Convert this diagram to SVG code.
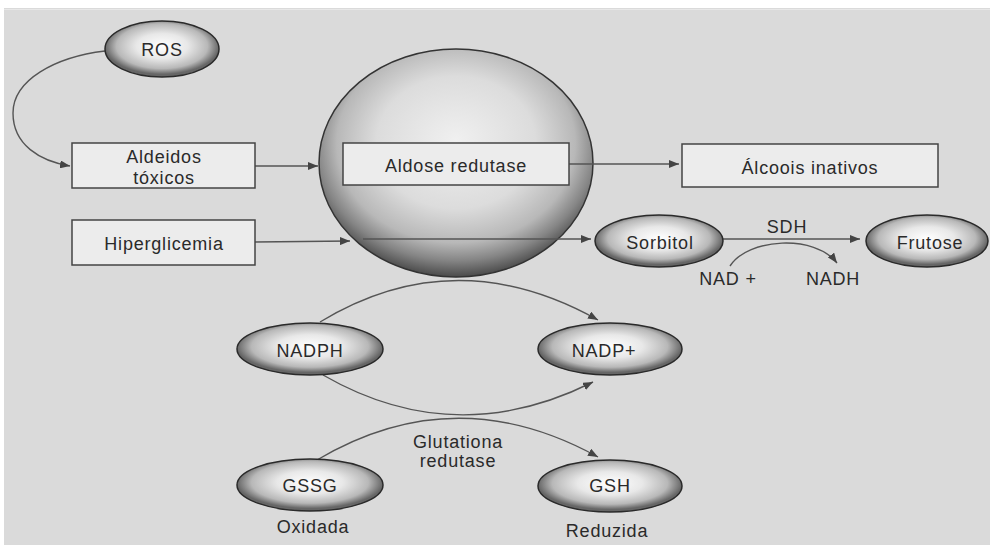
<svg xmlns="http://www.w3.org/2000/svg" width="990" height="545" viewBox="0 0 990 545">
<defs>
<radialGradient id="gOval" cx="0.5" cy="0.45" r="0.5">
<stop offset="0" stop-color="#ffffff"/>
<stop offset="0.45" stop-color="#e8e8e8"/>
<stop offset="0.8" stop-color="#b8b8b8"/>
<stop offset="1" stop-color="#666666"/>
</radialGradient>
<radialGradient id="gSphere" cx="0.5" cy="0.42" r="0.58" fx="0.5" fy="0.4">
<stop offset="0" stop-color="#f0f0f0"/>
<stop offset="0.5" stop-color="#dcdcdc"/>
<stop offset="0.75" stop-color="#b8b8b8"/>
<stop offset="0.88" stop-color="#858585"/>
<stop offset="1" stop-color="#4a4a4a"/>
</radialGradient>
<marker id="arr" viewBox="0 0 10 8" refX="10" refY="4" markerWidth="10" markerHeight="8" markerUnits="userSpaceOnUse" orient="auto">
<path d="M0,0 L10,4 L0,8 z" fill="#444"/>
</marker>
<style>
.box{fill:#ececec;stroke:#444;stroke-width:1.5}
.oval{fill:url(#gOval);stroke:#2a2a2a;stroke-width:1.5}
.t{font-family:"Liberation Sans",Arial,sans-serif;font-size:18px;fill:#2a2a2a;text-anchor:middle;letter-spacing:0.8px}
.c{fill:none;stroke:#555;stroke-width:1.4}
</style>
</defs>
<rect x="0" y="0" width="990" height="545" fill="#ffffff"/>
<rect x="4" y="8" width="986" height="537" fill="#dadada"/>
<line x1="4" y1="9.5" x2="990" y2="9.5" stroke="#e8e8e8" stroke-width="1"/>

<g id="sphere">
<ellipse cx="456" cy="163" rx="137" ry="114" fill="url(#gSphere)" stroke="#333" stroke-width="1.5"/>
</g>

<g id="connectors">
<path class="c" d="M105,51 C55,57 13,80 13,113 C13,145 40,161 70,166" marker-end="url(#arr)"/>
<line class="c" x1="255" y1="166" x2="318" y2="166" marker-end="url(#arr)"/>
<line class="c" x1="255" y1="242" x2="350" y2="241" marker-end="url(#arr)"/>
<line class="c" x1="363" y1="239" x2="591" y2="239" marker-end="url(#arr)"/>
<line class="c" x1="569" y1="164" x2="679" y2="164" marker-end="url(#arr)"/>
<line class="c" x1="723" y1="239" x2="860" y2="239" marker-end="url(#arr)"/>
<path class="c" d="M730,266 C748,238 815,234 837,263" marker-end="url(#arr)"/>
<path class="c" d="M320,322 Q455,240 598,320" marker-end="url(#arr)"/>
<path class="c" d="M323,375 Q455,451 593,382" marker-end="url(#arr)"/>
<path class="c" d="M317,460 Q455,378 598,457" marker-end="url(#arr)"/>
</g>

<g id="ros">
<ellipse class="oval" cx="162" cy="49" rx="57" ry="28"/>
<text class="t" x="162" y="56">ROS</text>
</g>
<g id="aldeidos">
<rect class="box" x="72" y="143" width="183" height="45"/>
<text class="t" x="164" y="163">Aldeidos</text>
<text class="t" x="164" y="184">tóxicos</text>
</g>
<g id="hiperglicemia">
<rect class="box" x="72" y="220" width="183" height="45"/>
<text class="t" x="164" y="250">Hiperglicemia</text>
</g>
<g id="aldose">
<rect class="box" x="343" y="143" width="226" height="42"/>
<text class="t" x="456" y="172">Aldose redutase</text>
</g>
<g id="alcoois">
<rect class="box" x="682" y="144" width="256" height="43"/>
<text class="t" x="810" y="174">Álcoois inativos</text>
</g>
<g id="sorbitol">
<ellipse class="oval" cx="659" cy="241" rx="64" ry="26"/>
<text class="t" x="660" y="249">Sorbitol</text>
</g>
<g id="frutose">
<ellipse class="oval" cx="927" cy="241" rx="61" ry="26"/>
<text class="t" x="930" y="249">Frutose</text>
</g>
<g id="labels-sdh">
<text class="t" x="787" y="233">SDH</text>
<text class="t" x="728" y="285">NAD +</text>
<text class="t" x="833" y="285">NADH</text>
</g>
<g id="nadph">
<ellipse class="oval" cx="310" cy="349" rx="73" ry="26"/>
<text class="t" x="310" y="357">NADPH</text>
</g>
<g id="nadp">
<ellipse class="oval" cx="610" cy="349" rx="72" ry="26"/>
<text class="t" x="604" y="357">NADP+</text>
</g>
<g id="glutationa">
<text class="t" x="458" y="448">Glutationa</text>
<text class="t" x="458" y="467">redutase</text>
</g>
<g id="gssg">
<ellipse class="oval" cx="310" cy="485" rx="73" ry="26"/>
<text class="t" x="310" y="492">GSSG</text>
<text class="t" x="313" y="533">Oxidada</text>
</g>
<g id="gsh">
<ellipse class="oval" cx="610" cy="486" rx="72" ry="26"/>
<text class="t" x="610" y="492">GSH</text>
<text class="t" x="607" y="537">Reduzida</text>
</g>
</svg>
